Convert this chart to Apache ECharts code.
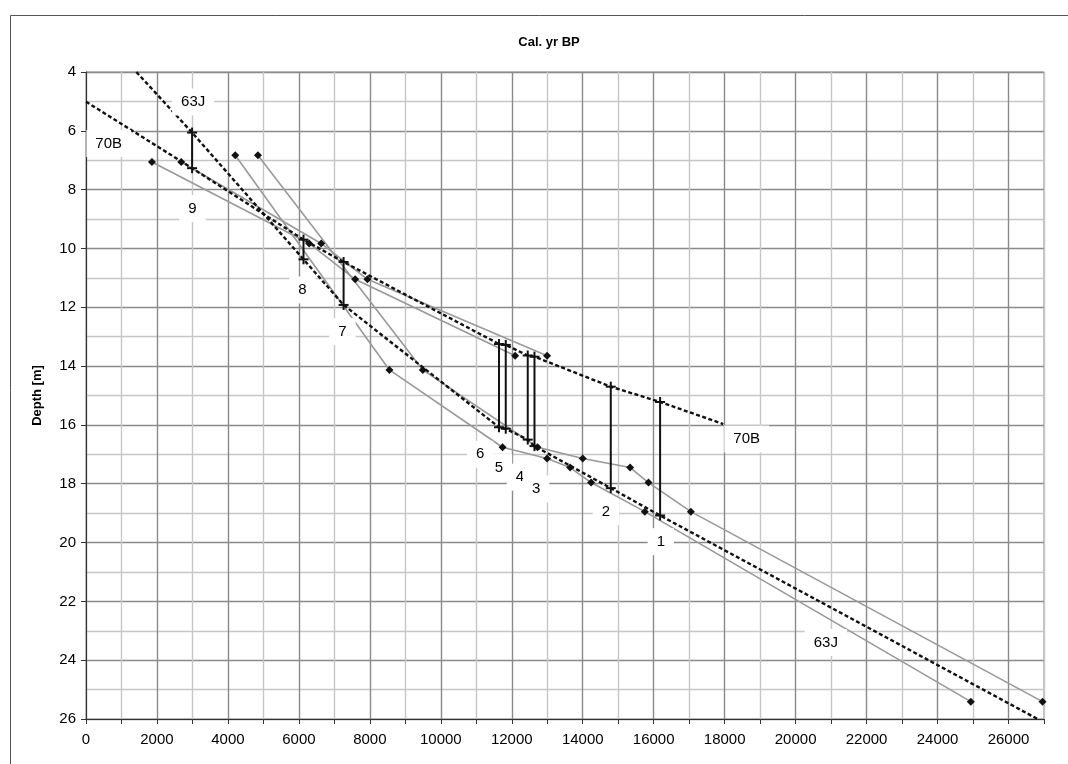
<!DOCTYPE html>
<html><head><meta charset="utf-8">
<script src="https://cdn.jsdelivr.net/npm/echarts@6/dist/echarts.min.js"></script>
<style>html,body{margin:0;padding:0;background:#fff}#c{width:1068px;height:764px}</style>
</head><body><div id="c"></div>
<script>
// ---- data (ages in cal. yr BP, depths in m) ----
// tie points (numbered 9..1 from shallow to deep)
const tieAges = [2990, 6130, 7260, 11640, 11830, 12450, 12640, 14790, 16180];
const tieDepth63J = [6.06, 10.37, 11.92, 16.08, 16.13, 16.50, 16.72, 18.15, 19.08];
const tieDepth70B = [7.27, 9.70, 10.46, 13.25, 13.28, 13.64, 13.68, 14.70, 15.22];
// age-depth models (dashed)
const model63JAges = [1420, 2990, 6130, 7260, 11640, 11830, 12450, 12640, 14790, 16180, 26820];
const model63JDepths = [4.0, 6.06, 10.37, 11.92, 16.08, 16.13, 16.50, 16.72, 18.15, 19.08, 26.0];
const model70BAges = [0, 2990, 6130, 7260, 11640, 11830, 12450, 12640, 14790, 16180, 17960];
const model70BDepths = [5.01, 7.27, 9.70, 10.46, 13.25, 13.28, 13.64, 13.68, 14.70, 15.22, 15.97];
// dated samples: calibrated age ranges (young / old bound)
const depths63J = [6.83, 14.13, 16.76, 17.14, 17.45, 17.96, 18.95, 25.41];
const young63J = [4206, 8552, 11740, 12995, 13644, 14236, 15750, 24938];
const old63J = [4845, 9493, 12725, 14001, 15336, 15853, 17047, 26959];
const depths70B = [7.06, 9.83, 11.05, 13.65];
const young70B = [1859, 6290, 7586, 12094];
const old70B = [2685, 6628, 7932, 12995];
// labels
const labelTexts = ['63J', '70B', '9', '8', '7', '6', '5', '4', '3', '2', '1', '70B', '63J'];
const labelAges = [3020, 640, 3000, 6100, 7230, 11110, 11640, 12230, 12690, 14650, 16200, 18620, 20850];
const labelDepths = [5.02, 6.43, 8.64, 11.41, 12.83, 17.0, 17.45, 17.78, 18.18, 18.95, 19.97, 16.48, 23.4];
// axis
const xMin = 0, xMax = 27000, xStep = 1000, xLabelStep = 2000;
const yMin = 4, yMax = 26, yStep = 2;

const zip = (a, b) => a.map((v, i) => [v, b[i]]);
const FONT = 'Liberation Sans, Arial, sans-serif';
const MAJOR = '#8a8a8a', MINOR = '#c6c6c6';
const TXT = '#000';

const chart = echarts.init(document.getElementById('c'));

function grayLine(name, ages, depths) {
  return {
    name, type: 'line', data: zip(ages, depths), z: 3,
    symbol: 'diamond', symbolSize: 8, showSymbol: true,
    itemStyle: {color: '#111', opacity: 1},
    lineStyle: {color: '#999', width: 1.6},
    animation: false
  };
}
function modelLine(name, ages, depths) {
  return {
    name, type: 'line', data: zip(ages, depths), z: 4,
    symbol: 'none',
    lineStyle: {color: '#111', width: 2.4, type: [4, 2.5]},
    animation: false
  };
}

const tieData = tieAges.map((a, i) => [a, Math.min(tieDepth63J[i], tieDepth70B[i]), Math.max(tieDepth63J[i], tieDepth70B[i])]);

chart.setOption({
  animation: false,
  backgroundColor: '#fff',
  grid: {left: 86, top: 72, right: 24, bottom: 45, show: true, borderColor: MAJOR, borderWidth: 1},
  graphic: [
    {type: 'rect', shape: {x: 10.5, y: 15.5, width: 1100, height: 800}, style: {fill: 'none', stroke: '#555', lineWidth: 1}, z: -10},
    {type: 'text', x: 549, y: 42, style: {text: 'Cal. yr BP', font: 'bold 13px ' + FONT, fill: TXT, align: 'center', verticalAlign: 'middle'}}
  ],
  xAxis: {
    type: 'value', min: xMin, max: xMax, interval: xStep,
    axisLine: {show: true, onZero: false, lineStyle: {color: '#333', width: 1}},
    axisTick: {show: true, length: 5, lineStyle: {color: '#333'}},
    axisLabel: {formatter: v => (v % xLabelStep === 0 ? String(v) : ''), fontSize: 15, color: TXT, margin: 13, fontFamily: FONT},
    splitLine: {show: true, lineStyle: {color: [MAJOR, MINOR], width: 1.4}}
  },
  yAxis: {
    type: 'value', inverse: true, min: yMin, max: yMax, interval: yStep,
    name: 'Depth [m]', nameLocation: 'middle', nameGap: 42,
    nameTextStyle: {fontWeight: 'bold', fontSize: 13, color: TXT, fontFamily: FONT},
    axisLine: {show: true, lineStyle: {color: '#333', width: 1}},
    axisTick: {show: true, length: 5, lineStyle: {color: '#333'}},
    axisLabel: {fontSize: 15, color: TXT, margin: 10, fontFamily: FONT},
    splitLine: {show: true, lineStyle: {color: MAJOR, width: 1.4}},
    minorTick: {show: false, splitNumber: 2},
    minorSplitLine: {show: true, lineStyle: {color: MINOR, width: 1.4}}
  },
  series: [
    grayLine('63J young', young63J, depths63J),
    grayLine('63J old', old63J, depths63J),
    grayLine('70B young', young70B, depths70B),
    grayLine('70B old', old70B, depths70B),
    modelLine('63J model', model63JAges, model63JDepths),
    modelLine('70B model', model70BAges, model70BDepths),
    {
      name: 'ties', type: 'custom', z: 5, data: tieData,
      encode: {x: 0, y: [1, 2]},
      renderItem: function (params, api) {
        const x = api.value(0);
        const p1 = api.coord([x, api.value(1)]);
        const p2 = api.coord([x, api.value(2)]);
        const h = 5, st = {stroke: '#111', lineWidth: 2};
        const ln = (x1, y1, x2, y2) => ({type: 'line', shape: {x1, y1, x2, y2}, style: st});
        return {type: 'group', children: [
          ln(p1[0], p1[1], p2[0], p2[1]),
          ln(p1[0] - h, p1[1], p1[0] + h, p1[1]),
          ln(p1[0], p1[1] - h, p1[0], p1[1]),
          ln(p2[0] - h, p2[1], p2[0] + h, p2[1]),
          ln(p2[0], p2[1], p2[0], p2[1] + h)
        ]};
      }
    },
    {
      name: 'labels', type: 'scatter', z: 10, symbolSize: 1,
      itemStyle: {color: '#fff', opacity: 1},
      data: labelTexts.map((t, i) => ({name: t, value: [labelAges[i], labelDepths[i]]})),
      label: {show: true, position: 'inside', formatter: '{b}', fontSize: 15, color: TXT, opacity: 1, fontFamily: FONT,
        backgroundColor: '#fff', padding: [6, 9]}
    }
  ]
});
</script></body></html>
